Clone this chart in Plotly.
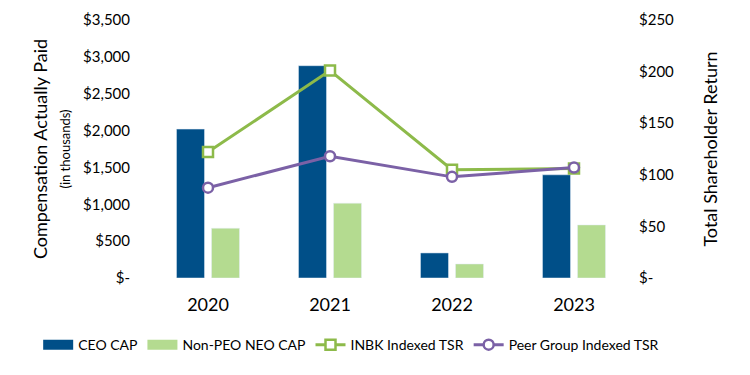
import plotly.graph_objects as go

years = ["2020", "2021", "2022", "2023"]
ceo_cap = [2020, 2880, 340, 1400]
neo_cap = [675, 1015, 190, 720]
inbk_tsr = [122, 201, 105, 106]
peer_tsr = [87.5, 118, 98, 107]

left_ticks = [0, 500, 1000, 1500, 2000, 2500, 3000, 3500]
left_labels = ["$-", "$500", "$1,000", "$1,500", "$2,000", "$2,500", "$3,000", "$3,500"]
right_ticks = [0, 50, 100, 150, 200, 250]
right_labels = ["$-", "$50", "$100", "$150", "$200", "$250"]

FONT = "Lato"
CEO_C = "#004F88"
NEO_C = "#B4DB90"
INBK_C = "#8DBA4A"
PEER_C = "#7B61A6"

fig = go.Figure()
fig.add_trace(go.Bar(x=years, y=ceo_cap, name="CEO CAP", marker_color=CEO_C, showlegend=False))
fig.add_trace(go.Bar(x=years, y=neo_cap, name="Non-PEO NEO CAP", marker_color=NEO_C, showlegend=False))
# legend swatches for the bars
fig.add_trace(go.Scatter(x=[None], y=[None], name="CEO CAP", mode="lines",
                         line=dict(color=CEO_C, width=10)))
fig.add_trace(go.Scatter(x=[None], y=[None], name="Non-PEO NEO CAP", mode="lines",
                         line=dict(color=NEO_C, width=10)))
fig.add_trace(go.Scatter(x=years, y=inbk_tsr, name="INBK Indexed TSR", yaxis="y2",
                         mode="lines+markers",
                         line=dict(color=INBK_C, width=3),
                         marker=dict(symbol="square", size=10, color="white",
                                     line=dict(color=INBK_C, width=2.5))))
fig.add_trace(go.Scatter(x=years, y=peer_tsr, name="Peer Group Indexed TSR", yaxis="y2",
                         mode="lines+markers",
                         line=dict(color=PEER_C, width=3),
                         marker=dict(symbol="circle", size=10, color="white",
                                     line=dict(color=PEER_C, width=2.5))))

fig.update_layout(
    width=742, height=367,
    margin=dict(l=139, r=115, t=12, b=97, autoexpand=False),
    paper_bgcolor="white", plot_bgcolor="white",
    font=dict(family=FONT, color="#000000"),
    barmode="group", bargap=0.426, bargroupgap=0.2,
    showlegend=True,
    legend=dict(orientation="h", x=-0.223, xanchor="left", xref="paper",
                y=-0.26, yanchor="middle", yref="paper",
                font=dict(size=14, family=FONT),
                traceorder="normal", tracegroupgap=0),
    xaxis=dict(showgrid=False, showline=False, ticks="", ticklabelstandoff=14,
               tickfont=dict(size=18, family=FONT)),
    yaxis=dict(range=[0, 3500], tickvals=left_ticks, ticktext=left_labels,
               showgrid=False, zeroline=False, showline=False, ticks="",
               ticklabelstandoff=16,
               tickfont=dict(size=15, family=FONT),
               title=dict(text="Compensation Actually Paid<br><span style='font-size:13px'>(in thousands)</span>",
                          font=dict(size=18, family=FONT), standoff=7)),
    yaxis2=dict(range=[0, 250], tickvals=right_ticks, ticktext=right_labels,
                overlaying="y", side="right",
                showgrid=False, zeroline=False, showline=False, ticks="",
                ticklabelstandoff=3,
                tickfont=dict(size=15, family=FONT),
                title=dict(text="Total Shareholder Return",
                           font=dict(size=18, family=FONT), standoff=31)),
)

fig.write_html("out.html")
